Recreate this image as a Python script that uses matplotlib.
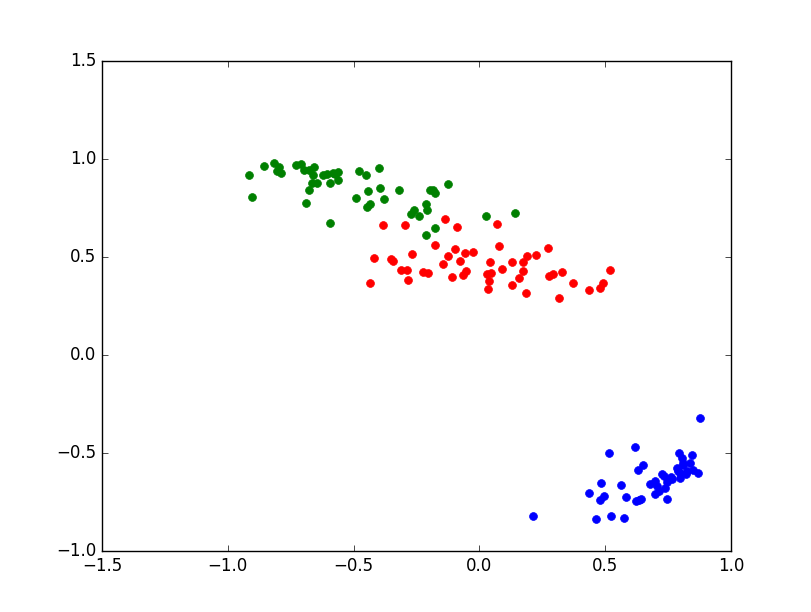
import matplotlib
matplotlib.use("Agg")
import matplotlib.pyplot as plt

plt.style.use('classic')

green_x = [-0.915, -0.904, -0.855, -0.815, -0.798, -0.805, -0.789, -0.730, -0.711, -0.696,
           -0.676, -0.656, -0.663, -0.665, -0.647, -0.679, -0.688, -0.620, -0.606, -0.580,
           -0.561, -0.572, -0.592, -0.561, -0.592, -0.480, -0.450, -0.400, -0.492, -0.441,
           -0.396, -0.380, -0.436, -0.446, -0.319, -0.198, -0.185, -0.176, -0.125, -0.211,
           -0.209, -0.261, -0.271, -0.241, -0.178, -0.211, 0.027, 0.143]
green_y = [0.916, 0.808, 0.965, 0.982, 0.960, 0.939, 0.931, 0.968, 0.973, 0.943,
           0.946, 0.960, 0.916, 0.876, 0.878, 0.840, 0.774, 0.916, 0.922, 0.929,
           0.934, 0.921, 0.880, 0.895, 0.673, 0.938, 0.916, 0.955, 0.801, 0.839,
           0.851, 0.796, 0.772, 0.754, 0.840, 0.840, 0.840, 0.827, 0.875, 0.769,
           0.742, 0.742, 0.718, 0.708, 0.648, 0.614, 0.708, 0.724]

red_x = [-0.384, -0.295, -0.136, -0.091, 0.070, -0.417, -0.433, -0.351, -0.343, -0.313,
         -0.289, -0.285, -0.266, -0.225, -0.203, -0.177, -0.143, -0.123, -0.095, -0.076,
         -0.058, -0.024, -0.109, -0.066, -0.052, 0.079, 0.041, 0.031, 0.046, 0.038,
         0.033, 0.091, 0.128, 0.128, 0.172, 0.191, 0.225, 0.175, 0.157, 0.185,
         0.273, 0.275, 0.291, 0.327, 0.318, 0.371, 0.434, 0.481, 0.492, 0.520]
red_y = [0.663, 0.665, 0.692, 0.655, 0.670, 0.493, 0.365, 0.489, 0.478, 0.435,
         0.433, 0.384, 0.515, 0.423, 0.420, 0.561, 0.466, 0.505, 0.540, 0.481,
         0.522, 0.527, 0.397, 0.407, 0.430, 0.556, 0.476, 0.413, 0.420, 0.377,
         0.336, 0.437, 0.476, 0.356, 0.474, 0.503, 0.508, 0.430, 0.394, 0.317,
         0.546, 0.404, 0.415, 0.423, 0.290, 0.367, 0.333, 0.343, 0.367, 0.435]

blue_x = [0.215, 0.878, 0.514, 0.617, 0.652, 0.630, 0.482, 0.436, 0.497, 0.481,
          0.562, 0.582, 0.621, 0.633, 0.643, 0.465, 0.525, 0.574, 0.679, 0.696,
          0.704, 0.725, 0.733, 0.744, 0.737, 0.715, 0.697, 0.745, 0.766, 0.794,
          0.846, 0.806, 0.837, 0.784, 0.810, 0.797, 0.820, 0.848, 0.869, 0.824,
          0.797, 0.810, 0.790, 0.760]
blue_y = [-0.821, -0.319, -0.501, -0.470, -0.559, -0.586, -0.651, -0.705, -0.720, -0.739,
          -0.664, -0.724, -0.743, -0.738, -0.733, -0.835, -0.821, -0.830, -0.656, -0.642,
          -0.668, -0.605, -0.617, -0.646, -0.679, -0.693, -0.710, -0.734, -0.633, -0.501,
          -0.508, -0.528, -0.549, -0.574, -0.562, -0.625, -0.608, -0.587, -0.603, -0.591,
          -0.600, -0.550, -0.590, -0.620]

fig = plt.figure(figsize=(8.12, 6.12), dpi=100, facecolor='white')
ax = fig.add_axes([102/812, 1 - 551/612, (731 - 102)/812, (551 - 61)/612])
ax.set_facecolor('white')

for xs, ys, c in [(green_x, green_y, 'g'), (red_x, red_y, 'r'), (blue_x, blue_y, 'b')]:
    ax.scatter(xs, ys, s=32, c=c, edgecolors=c, linewidths=0.5)

ax.set_xlim(-1.5, 1.0)
ax.set_ylim(-1.0, 1.5)
ax.set_xticks([-1.5, -1.0, -0.5, 0.0, 0.5, 1.0])
ax.set_yticks([-1.0, -0.5, 0.0, 0.5, 1.0, 1.5])

fig.savefig('out.png', dpi=100, facecolor='white')
